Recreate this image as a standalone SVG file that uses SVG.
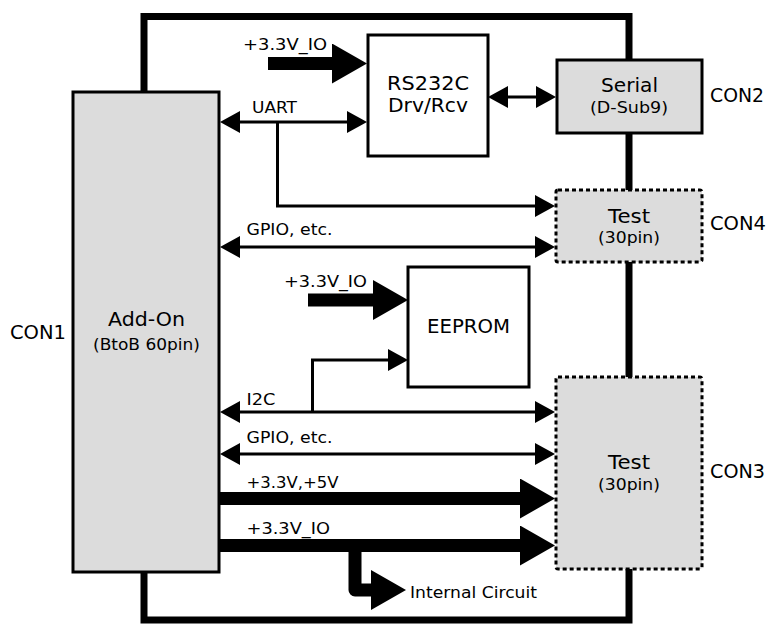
<svg xmlns="http://www.w3.org/2000/svg" width="769" height="625" viewBox="0 0 769 625">
<style>
text{font-family:"DejaVu Sans",Verdana,sans-serif;fill:#000}
.s{font-size:15.5px}
.m{font-size:19px}
.l{font-size:20px}
.box{fill:#fff;stroke:#000;stroke-width:3}
.gray{fill:#dcdcdc;stroke:#000;stroke-width:3}
.dot{fill:#dcdcdc;stroke:#000;stroke-width:3;stroke-dasharray:4 3}
.thin{fill:none;stroke:#000;stroke-width:3}
.thick{fill:none;stroke:#000;stroke-width:13}
</style>
<defs>
<marker id="ah" viewBox="0 0 20 22" markerWidth="20" markerHeight="22" refX="4" refY="11" markerUnits="userSpaceOnUse" orient="auto-start-reverse"><path d="M0,0 L20,11 L0,22 z" fill="#000"/></marker>
<marker id="bh" viewBox="0 0 35 40" markerWidth="35" markerHeight="40" refX="5" refY="20" markerUnits="userSpaceOnUse" orient="auto"><path d="M0,0 L35,20 L0,40 z" fill="#000"/></marker>
</defs>
<g id="frame"><rect x="144" y="16.5" width="485" height="603.5" fill="none" stroke="#000" stroke-width="7"/></g>
<g id="connectors">
<path class="thin" d="M236,122 H351" marker-start="url(#ah)" marker-end="url(#ah)"/>
<path class="thin" d="M277.5,122 V206 H539" marker-end="url(#ah)"/>
<path class="thin" d="M504,97 H540" marker-start="url(#ah)" marker-end="url(#ah)"/>
<path class="thin" d="M236,247 H539" marker-start="url(#ah)" marker-end="url(#ah)"/>
<path class="thin" d="M236,412 H539" marker-start="url(#ah)" marker-end="url(#ah)"/>
<path class="thin" d="M312.5,412 V360 H392" marker-end="url(#ah)"/>
<path class="thin" d="M236,454 H539" marker-start="url(#ah)" marker-end="url(#ah)"/>
<path class="thick" d="M268,63.5 H337" marker-end="url(#bh)"/>
<path class="thick" d="M308,300 H378" marker-end="url(#bh)"/>
<path class="thick" d="M219,498.5 H525" marker-end="url(#bh)"/>
<path class="thick" d="M219,545.5 H525" marker-end="url(#bh)"/>
<path class="thick" d="M355,545.5 V590 H376" stroke-linejoin="round" marker-end="url(#bh)"/>
<text class="s" x="243" y="50" textLength="84" lengthAdjust="spacingAndGlyphs">+3.3V_IO</text>
<text class="s" x="252" y="113" textLength="45" lengthAdjust="spacingAndGlyphs">UART</text>
<text class="s" x="246.5" y="235" textLength="86" lengthAdjust="spacingAndGlyphs">GPIO, etc.</text>
<text class="s" x="284" y="287" textLength="83" lengthAdjust="spacingAndGlyphs">+3.3V_IO</text>
<text class="s" x="246.5" y="405" textLength="29" lengthAdjust="spacingAndGlyphs">I2C</text>
<text class="s" x="246.5" y="442.5" textLength="86" lengthAdjust="spacingAndGlyphs">GPIO, etc.</text>
<text class="s" x="246.5" y="487.5" textLength="92" lengthAdjust="spacingAndGlyphs">+3.3V,+5V</text>
<text class="s" x="246.5" y="534" textLength="83.5" lengthAdjust="spacingAndGlyphs">+3.3V_IO</text>
<text class="s" x="410" y="597.5" textLength="127" lengthAdjust="spacingAndGlyphs">Internal Circuit</text>
</g>
<g id="addon">
<rect class="gray" x="73" y="92" width="146" height="480" stroke-width="2.5"/>
<text class="l" x="108" y="326" textLength="77" lengthAdjust="spacingAndGlyphs">Add-On</text>
<text class="s" x="93" y="350" textLength="107" lengthAdjust="spacingAndGlyphs">(BtoB 60pin)</text>
<text class="m" x="10" y="339" textLength="56" lengthAdjust="spacingAndGlyphs">CON1</text>
</g>
<g id="rs232c">
<rect class="box" x="368" y="35" width="120" height="121"/>
<text class="m" x="387" y="90" textLength="82" lengthAdjust="spacingAndGlyphs">RS232C</text>
<text class="m" x="388" y="111.5" textLength="80" lengthAdjust="spacingAndGlyphs">Drv/Rcv</text>
</g>
<g id="serial">
<rect class="gray" x="557" y="60" width="145" height="73"/>
<text class="l" x="601" y="92" textLength="57" lengthAdjust="spacingAndGlyphs">Serial</text>
<text class="s" x="590" y="113" textLength="78" lengthAdjust="spacingAndGlyphs">(D-Sub9)</text>
<text class="m" x="710" y="102" textLength="54" lengthAdjust="spacingAndGlyphs">CON2</text>
</g>
<g id="test4">
<rect class="dot" x="556" y="190" width="146" height="72" rx="2"/>
<text class="l" x="608" y="222.5" textLength="42" lengthAdjust="spacingAndGlyphs">Test</text>
<text class="s" x="598" y="243" textLength="62" lengthAdjust="spacingAndGlyphs">(30pin)</text>
<text class="m" x="710" y="230" textLength="56" lengthAdjust="spacingAndGlyphs">CON4</text>
</g>
<g id="eeprom">
<rect class="box" x="408" y="267" width="121" height="120"/>
<text class="m" x="427" y="333" textLength="83" lengthAdjust="spacingAndGlyphs">EEPROM</text>
</g>
<g id="test3">
<rect class="dot" x="556" y="377" width="146" height="192" rx="2"/>
<text class="l" x="608" y="469" textLength="42" lengthAdjust="spacingAndGlyphs">Test</text>
<text class="s" x="598" y="490" textLength="62" lengthAdjust="spacingAndGlyphs">(30pin)</text>
<text class="m" x="710" y="478" textLength="55" lengthAdjust="spacingAndGlyphs">CON3</text>
</g>
</svg>
